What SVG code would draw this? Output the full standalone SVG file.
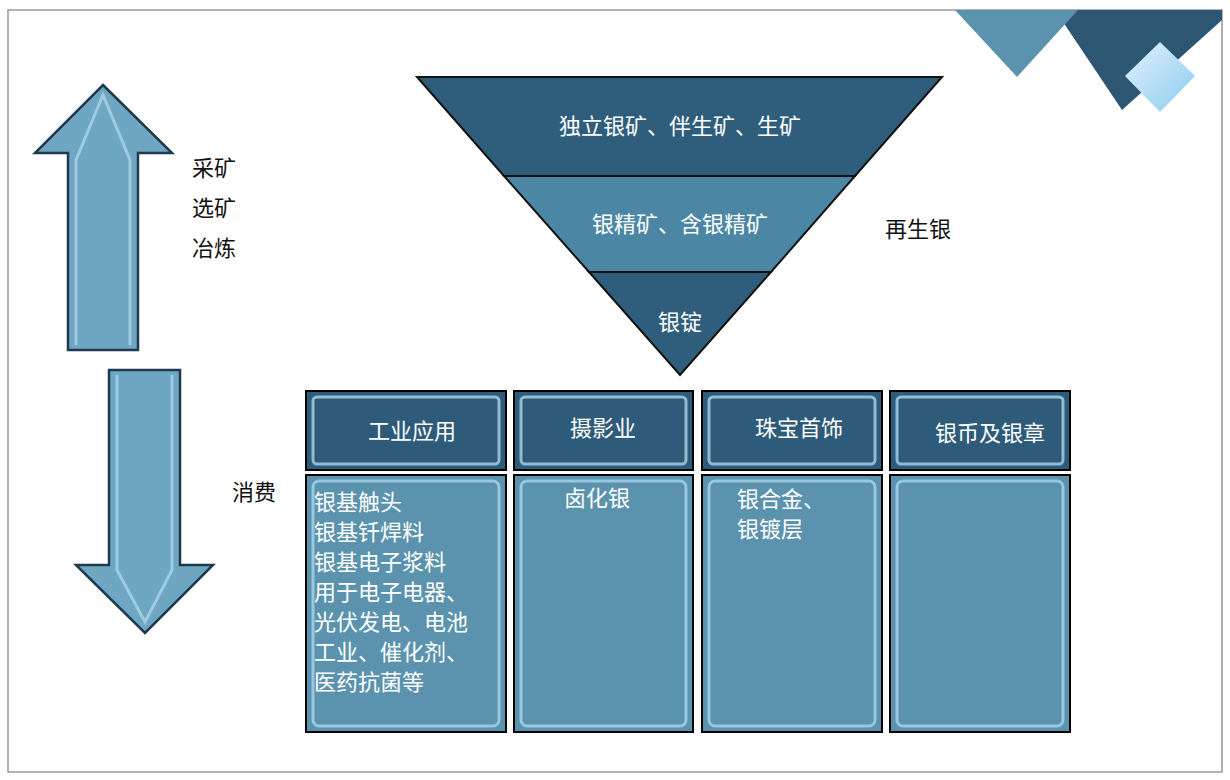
<svg xmlns="http://www.w3.org/2000/svg" width="1230" height="780" viewBox="0 0 1230 780">
<style>
text{font-family:"Noto Sans CJK SC","Liberation Sans",sans-serif;font-size:22px}
.w{fill:#fff}.k{fill:#111}
.hd{fill:#2e5b7a;stroke:#000;stroke-width:2}
.bd{fill:#5b93ae;stroke:#000;stroke-width:2}
.in{fill:none;stroke:#a9d4e8;stroke-width:3;opacity:.8}
.ar{fill:#6fa6c1;stroke:#1e3a4c;stroke-width:2.5}
</style>
<defs><linearGradient id="lb" x1="0" y1="0" x2="1" y2="1"><stop offset="0" stop-color="#e2f2fc"/><stop offset="1" stop-color="#8ccbef"/></linearGradient></defs>
<rect width="1230" height="780" fill="#fff"/>
<rect x="8" y="10" width="1214" height="762" fill="none" stroke="#999" stroke-width="1.5"/>
<g id="deco">
<polygon points="1055,10 1222,10 1222,20 1122,110" fill="#2d5672"/>
<polygon points="955,10 1078,10 1017,77" fill="#5b93ae"/>
<polygon points="1125,76 1160,42 1195,76 1160,112" fill="url(#lb)"/>
</g>
<g id="pyramid">
<g id="l1"><polygon points="417,77 942,77 855,176 504,176" fill="#2f5d7c" stroke="#111" stroke-width="2"/><text class="w" x="680" y="134" text-anchor="middle">独立银矿、伴生矿、生矿</text></g>
<g id="l2"><polygon points="504,176 855,176 771,272 589,272" fill="#4b87a4" stroke="#111" stroke-width="2"/><text class="w" x="680" y="232" text-anchor="middle">银精矿、含银精矿</text></g>
<g id="l3"><polygon points="589,272 771,272 680,375" fill="#2f5d7c" stroke="#111" stroke-width="2"/><text class="w" x="680" y="330" text-anchor="middle">银锭</text></g>
</g>
<g id="recycle"><text class="k" x="885" y="237">再生银</text></g>
<g id="up"><polygon class="ar" points="103,85 172,153 138,153 138,350 68,350 68,153 35,153"/><polyline class="in" points="76,345 76,160 103,95 130,160 130,345"/></g>
<g id="upl"><text class="k" x="192" y="176">采矿</text><text class="k" x="192" y="216">选矿</text><text class="k" x="192" y="256">冶炼</text></g>
<g id="down"><polygon class="ar" points="109,370 180,370 180,565 213,565 145,633 76,565 109,565"/><polyline class="in" points="117,375 117,570 145,622 172,570 172,375"/></g>
<g id="downl"><text class="k" x="232" y="500">消费</text></g>
<g id="c1"><rect class="hd" x="306" y="391" width="200" height="79"/><rect class="in" x="313" y="397" width="186" height="67" rx="4"/><text class="w" x="412" y="439" text-anchor="middle">工业应用</text>
<rect class="bd" x="306" y="475" width="200" height="257"/><rect class="in" x="313" y="481" width="186" height="245" rx="6"/>
<text class="w" x="314" y="510">银基触头</text><text class="w" x="314" y="540">银基钎焊料</text><text class="w" x="314" y="570">银基电子浆料</text><text class="w" x="314" y="600">用于电子电器、</text><text class="w" x="314" y="630">光伏发电、电池</text><text class="w" x="314" y="660">工业、催化剂、</text><text class="w" x="314" y="690">医药抗菌等</text></g>
<g id="c2"><rect class="hd" x="514" y="391" width="179" height="79"/><rect class="in" x="521" y="397" width="165" height="67" rx="4"/><text class="w" x="603" y="436" text-anchor="middle">摄影业</text>
<rect class="bd" x="514" y="475" width="179" height="257"/><rect class="in" x="521" y="481" width="165" height="245" rx="6"/><text class="w" x="597" y="506" text-anchor="middle">卤化银</text></g>
<g id="c3"><rect class="hd" x="702" y="391" width="180" height="79"/><rect class="in" x="709" y="397" width="166" height="67" rx="4"/><text class="w" x="799" y="436" text-anchor="middle">珠宝首饰</text>
<rect class="bd" x="702" y="475" width="180" height="257"/><rect class="in" x="709" y="481" width="166" height="245" rx="6"/><text class="w" x="737" y="507">银合金、</text><text class="w" x="737" y="537">银镀层</text></g>
<g id="c4"><rect class="hd" x="890" y="391" width="180" height="79"/><rect class="in" x="897" y="397" width="166" height="67" rx="4"/><text class="w" x="990" y="441" text-anchor="middle">银币及银章</text>
<rect class="bd" x="890" y="475" width="180" height="257"/><rect class="in" x="897" y="481" width="166" height="245" rx="6"/></g>
<g id="connectors"/>
</svg>
